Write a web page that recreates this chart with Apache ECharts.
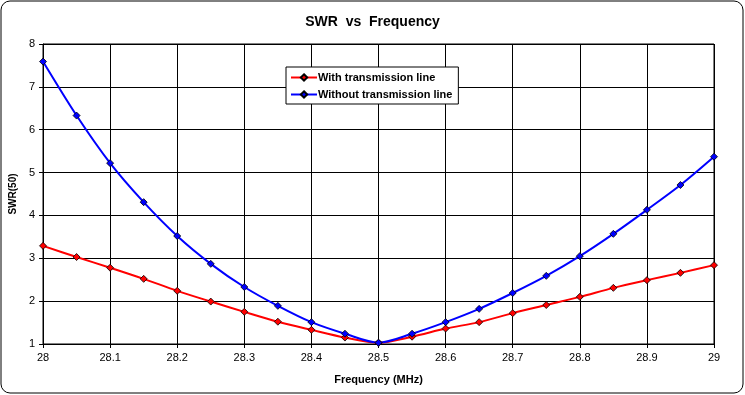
<!DOCTYPE html>
<html><head><meta charset="utf-8">
<script src="https://cdn.jsdelivr.net/npm/echarts@6/dist/echarts.min.js"></script>
<style>html,body{margin:0;padding:0;background:#fff}#c{width:745px;height:395px}</style>
</head><body><div id="c"></div>
<script>
const freqs = [28,28.05,28.1,28.15,28.2,28.25,28.3,28.35,28.4,28.45,28.5,28.55,28.6,28.65,28.7,28.75,28.8,28.85,28.9,28.95,29];
const withLine = [3.29,3.03,2.78,2.52,2.24,1.99,1.75,1.52,1.33,1.15,1.03,1.17,1.36,1.51,1.72,1.91,2.10,2.31,2.49,2.66,2.84];
const withoutLine = [7.59,6.33,5.22,4.31,3.52,2.87,2.33,1.89,1.51,1.24,1.03,1.24,1.51,1.82,2.19,2.59,3.05,3.57,4.13,4.71,5.37];
const seriesNames = ['With transmission line','Without transmission line'];
const font = 'Liberation Sans, Arial, sans-serif';
const chart = echarts.init(document.getElementById('c'));
const pairs = a => freqs.map((f,i)=>[f,a[i]]);
chart.setOption({
  backgroundColor:'#fff',
  animation:false,
  title:{text:'SWR  vs  Frequency',left:'center',top:10,textStyle:{fontFamily:font,fontSize:14,fontWeight:'bold',color:'#000'}},
  graphic:[{type:'rect',shape:{x:1,y:1,width:742,height:392,r:9},style:{fill:'none',stroke:'#000',lineWidth:1},z:-1}],
  legend:{orient:'vertical',left:286,top:67,padding:[5,6,4,4],itemGap:6,itemWidth:26,itemHeight:8,
    borderColor:'#000',borderWidth:1,backgroundColor:'#fff',
    textStyle:{fontFamily:font,fontSize:11,fontWeight:'bold',color:'#000',padding:[0,0,0,-4]},
    data:seriesNames},
  grid:{left:41,right:31,top:44,bottom:51,show:true,borderColor:'#000',borderWidth:1,backgroundColor:'#fff'},
  xAxis:{type:'value',min:28,max:29,interval:0.1,name:'Frequency (MHz)',nameLocation:'middle',nameGap:30,
    nameTextStyle:{fontFamily:font,fontSize:11,fontWeight:'bold',color:'#000'},
    axisLine:{lineStyle:{color:'#000'}},axisTick:{show:true,length:4,lineStyle:{color:'#000'}},
    axisLabel:{fontFamily:font,fontSize:11,color:'#000',margin:8,formatter:v=>String(Math.round(v*10)/10)},
    splitLine:{show:true,lineStyle:{color:'#000',width:1}}},
  yAxis:{type:'value',min:1,max:8,interval:1,name:'SWR(50)',nameLocation:'middle',nameGap:22,
    nameTextStyle:{fontFamily:font,fontSize:10,fontWeight:'bold',color:'#000'},
    axisLine:{show:true,lineStyle:{color:'#000'}},axisTick:{show:true,length:4,lineStyle:{color:'#000'}},
    axisLabel:{fontFamily:font,fontSize:11,color:'#000',margin:8},
    splitLine:{show:true,lineStyle:{color:'#000',width:1}}},
  series:[
    {name:seriesNames[0],type:'line',data:pairs(withLine),smooth:0.3,symbol:'diamond',symbolSize:7,
      lineStyle:{color:'#ff0000',width:2},itemStyle:{color:'#ff0000',borderColor:'#000',borderWidth:0.8}},
    {name:seriesNames[1],type:'line',data:pairs(withoutLine),smooth:0.3,symbol:'diamond',symbolSize:7,
      lineStyle:{color:'#0000ff',width:2},itemStyle:{color:'#0000ff',borderColor:'#000',borderWidth:0.8}}
  ]
});
</script></body></html>
